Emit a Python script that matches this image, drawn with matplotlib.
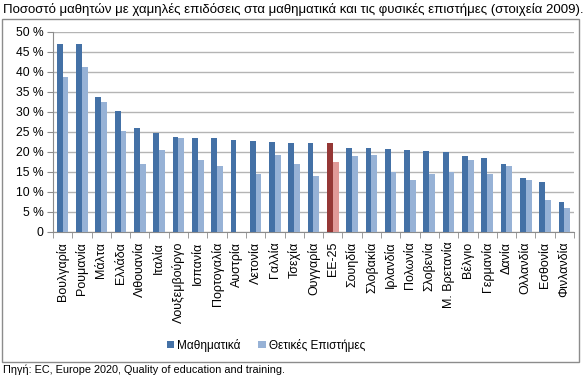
import numpy as np
import matplotlib.pyplot as plt
from matplotlib.patches import Rectangle

plt.rcParams['font.family'] = ['Liberation Sans', 'DejaVu Sans']

# Δεδομένα (στοιχεία 2009)
countries = ['Βουλγαρία', 'Ρουμανία', 'Μάλτα', 'Ελλάδα', 'Λιθουανία', 'Ιταλία',
             'Λουξεμβούργο', 'Ισπανία', 'Πορτογαλία', 'Αυστρία', 'Λετονία',
             'Γαλλία', 'Τσεχία', 'Ουγγαρία', 'ΕΕ-25', 'Σουηδία', 'Σλοβακία',
             'Ιρλανδία', 'Πολωνία', 'Σλοβενία', 'Μ. Βρετανία', 'Βέλγιο',
             'Γερμανία', 'Δανία', 'Ολλανδία', 'Εσθονία', 'Φινλανδία']
maths = [47.0, 47.0, 33.7, 30.2, 26.1, 24.7, 23.7, 23.6, 23.6, 23.1, 22.7,
         22.4, 22.2, 22.2, 22.2, 21.0, 21.0, 20.7, 20.5, 20.2, 20.0, 19.0,
         18.5, 17.0, 13.4, 12.6, 7.6]
science = [38.7, 41.3, 32.4, 25.2, 16.9, 20.4, 23.6, 18.1, 16.5, 0.0, 14.6,
           19.2, 17.1, 14.0, 17.6, 19.0, 19.3, 15.0, 13.0, 14.5, 15.0, 18.0,
           14.5, 16.5, 13.1, 8.1, 5.9]
yticks = [0, 5, 10, 15, 20, 25, 30, 35, 40, 45, 50]

c_math = '#4471A6'
c_sci = '#97B2D6'
c_eu = '#953735'
c_eu2 = '#E09A98'
gray = '#8C8C8C'

fig = plt.figure(figsize=(5.86, 3.81), dpi=100)
ax = fig.add_axes([53/586, 1 - 232/381, 521/586, 200/381])

x = np.arange(len(countries))
w = 0.3
cm = [c_eu if c == 'ΕΕ-25' else c_math for c in countries]
cs = [c_eu2 if c == 'ΕΕ-25' else c_sci for c in countries]
ax.bar(x - w/2, maths, w, color=cm, label='Μαθηματικά', zorder=3)
ax.bar(x + w/2, science, w, color=cs, label='Θετικές Επιστήμες', zorder=3)

ax.set_xlim(-0.5, len(countries) - 0.5)
ax.set_ylim(0, 50)
ax.set_yticks(yticks)
ax.set_yticklabels(['0' if v == 0 else f'{v} %' for v in yticks], fontsize=8.7)
ax.yaxis.grid(True, color='#B4B4B4', linewidth=1, zorder=0)
ax.set_xticks(x)
ax.set_xticklabels(countries, rotation=90, fontsize=9)
ax.set_xticks(np.arange(-0.5, len(countries)), minor=True)
ax.tick_params(axis='x', which='major', length=0, pad=7)
ax.tick_params(axis='x', which='minor', length=4, color=gray)
ax.tick_params(axis='y', length=4, color=gray, pad=3)
for s in ['top', 'right']:
    ax.spines[s].set_visible(False)
ax.spines['left'].set_color(gray)
ax.spines['bottom'].set_color(gray)

leg = fig.legend(loc='center', bbox_to_anchor=(266/586, 1 - 345/381), ncol=2,
                 frameon=False, fontsize=8.5, handlelength=0.6, handleheight=0.6,
                 handletextpad=0.3, columnspacing=1.5)

fig.patches.append(Rectangle((2/586, 1 - 362/381), 577/586, 343/381,
                             transform=fig.transFigure, fill=False,
                             edgecolor=gray, linewidth=1))

fig.text(3/586, 1 - 10/381, 'Ποσοστό μαθητών με χαμηλές επιδόσεις στα μαθηματικά και τις φυσικές επιστήμες (στοιχεία 2009).',
         fontsize=9.5, va='center', ha='left')
fig.text(3/586, 1 - 370/381, 'Πηγή: EC, Europe 2020, Quality of education and training.',
         fontsize=7.8, va='center', ha='left')

fig.savefig('out.png', dpi=100)
